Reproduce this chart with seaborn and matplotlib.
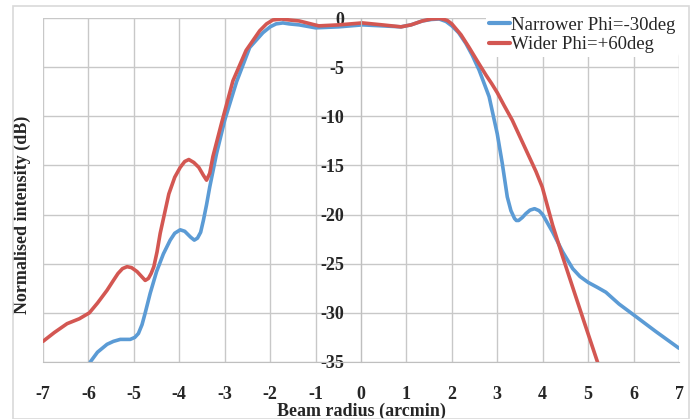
import numpy as np
import pandas as pd
import matplotlib.pyplot as plt
import matplotlib.patches as patches
import seaborn as sns

# beam profiles
narrow_x = [-5.96, -5.8, -5.59, -5.45, -5.3, -5.18, -5.08, -4.98, -4.9, -4.82, -4.75, -4.64,
            -4.5, -4.35, -4.2, -4.1, -3.98, -3.88, -3.75, -3.67, -3.6, -3.53, -3.47, -3.4,
            -3.33, -3.18, -3.0, -2.74, -2.45, -2.16, -2.0, -1.87, -1.72, -1.58, -1.36, -1.0,
            -0.49, 0.03, 0.47, 0.88, 1.1, 1.35, 1.55, 1.72, 1.87, 2.0, 2.15, 2.31, 2.45,
            2.6, 2.82, 3.0, 3.11, 3.22, 3.3, 3.38, 3.42, 3.47, 3.55, 3.63, 3.72, 3.82, 3.92,
            4.0, 4.22, 4.44, 4.66, 4.82, 5.0, 5.2, 5.39, 5.68, 6.0, 6.49, 7.0]
narrow_y = [-35.0, -34.0, -33.2, -32.9, -32.7, -32.7, -32.7, -32.5, -32.1, -31.2, -30.0, -28.0,
            -25.8, -24.0, -22.6, -21.9, -21.55, -21.7, -22.3, -22.6, -22.4, -21.8, -20.6, -19.0,
            -17.2, -13.8, -10.4, -6.5, -3.0, -1.5, -0.9, -0.6, -0.5, -0.6, -0.7, -1.0,
            -0.9, -0.7, -0.8, -0.9, -0.7, -0.3, -0.15, -0.1, -0.35, -0.8, -1.5, -2.6, -3.8,
            -5.3, -8.0, -11.8, -14.8, -18.2, -19.6, -20.4, -20.6, -20.6, -20.3, -19.9, -19.55, -19.4, -19.6,
            -20.0, -21.8, -23.8, -25.5, -26.3, -26.9, -27.4, -27.9, -29.1, -30.2, -31.9, -33.6]

wide_x = [-7.0, -6.75, -6.47, -6.2, -5.98, -5.8, -5.59, -5.45, -5.35, -5.25, -5.15, -5.05,
          -4.93, -4.83, -4.75, -4.68, -4.62, -4.56, -4.49, -4.42, -4.23, -4.1, -3.98, -3.88,
          -3.79, -3.68, -3.57, -3.47, -3.4, -3.33, -3.26, -3.07, -2.82, -2.53, -2.23, -2.08,
          -1.94, -1.75, -1.58, -1.36, -0.93, -0.49, 0.03, 0.47, 0.88, 1.1, 1.35, 1.55, 1.75,
          1.9, 2.0, 2.2, 2.38, 2.55, 2.75, 2.88, 3.0, 3.15, 3.33, 3.5, 3.7, 3.85, 3.99,
          4.22, 4.44, 4.66, 4.91, 5.22]
wide_y = [-32.9, -32.0, -31.1, -30.6, -30.0, -29.0, -27.7, -26.7, -26.0, -25.5, -25.3, -25.4,
          -25.8, -26.3, -26.7, -26.5, -26.0, -25.3, -23.8, -21.9, -17.9, -16.2, -15.2, -14.6,
          -14.4, -14.7, -15.2, -16.0, -16.5, -15.8, -14.1, -10.7, -6.4, -3.3, -1.3, -0.6,
          -0.2, -0.1, -0.2, -0.3, -0.8, -0.7, -0.5, -0.7, -0.9, -0.7, -0.3, -0.1, -0.05,
          -0.25, -0.6, -1.7, -3.0, -4.3, -5.8, -6.7, -7.6, -8.9, -10.4, -12.1, -14.1, -15.6, -17.2,
          -21.1, -24.3, -27.4, -30.9, -35.2]

labels = ["Narrower Phi=-30deg", "Wider Phi=+60deg"]
colors = ["#5B9BD5", "#D35752"]

sns.set_style("white")
plt.rcParams['font.family'] = ['Liberation Serif', 'DejaVu Serif']
plt.rcParams['axes.unicode_minus'] = False

fig = plt.figure(figsize=(6.96, 4.19), dpi=100)
ax = fig.add_axes([43 / 696, 1 - 362 / 419, 636 / 696, 344 / 419])

# light frame round the whole chart
fig.patches.append(patches.Rectangle((13 / 696, 0.0), 676 / 696, 1 - 6 / 419,
                                     transform=fig.transFigure, fill=False,
                                     edgecolor="#D9D9D9", lw=1.2, zorder=0))

line_kw = dict(sort=False, estimator=None, lw=2.6, solid_joinstyle="round",
               solid_capstyle="round", ax=ax)
sns.lineplot(x=narrow_x, y=narrow_y, color=colors[0], label=labels[0], **line_kw)
sns.lineplot(x=wide_x, y=wide_y, color=colors[1], label=labels[1], **line_kw)

ax.set_xlim(-7, 7)
ax.set_ylim(-35, 0)
ax.set_xticks(range(-7, 8))
ax.set_yticks(range(-35, 1, 5))
ax.grid(True, color="#C8C8C8", lw=1.0)

for s in ["top", "right"]:
    ax.spines[s].set_visible(False)
ax.spines["left"].set_position(("data", 0))
ax.spines["left"].set_color("#BFBFBF")
ax.spines["bottom"].set_color("#BFBFBF")

ax.tick_params(axis="x", length=4, color="#BFBFBF", pad=13, labelsize=13)
ax.tick_params(axis="y", length=4, color="#BFBFBF", pad=8, labelsize=13)
for t in ax.get_xticklabels() + ax.get_yticklabels():
    t.set_fontweight("bold")

ax.set_xlabel("Beam radius (arcmin)", fontsize=13, fontweight="bold", labelpad=0)
ax.set_ylabel("Normalised intensity (dB)", fontsize=13, fontweight="bold")
ax.yaxis.set_label_coords(-0.019, 0.427)

leg = ax.legend(loc="upper right", bbox_to_anchor=(1.0, 1.015), fontsize=13.5,
                frameon=True, facecolor="white", edgecolor="none", framealpha=1,
                handlelength=1.1, handletextpad=0.05, labelspacing=0.12,
                borderpad=0.2, borderaxespad=0)
for line in leg.get_lines():
    line.set_linewidth(3)

plt.savefig("out.png", dpi=100)
